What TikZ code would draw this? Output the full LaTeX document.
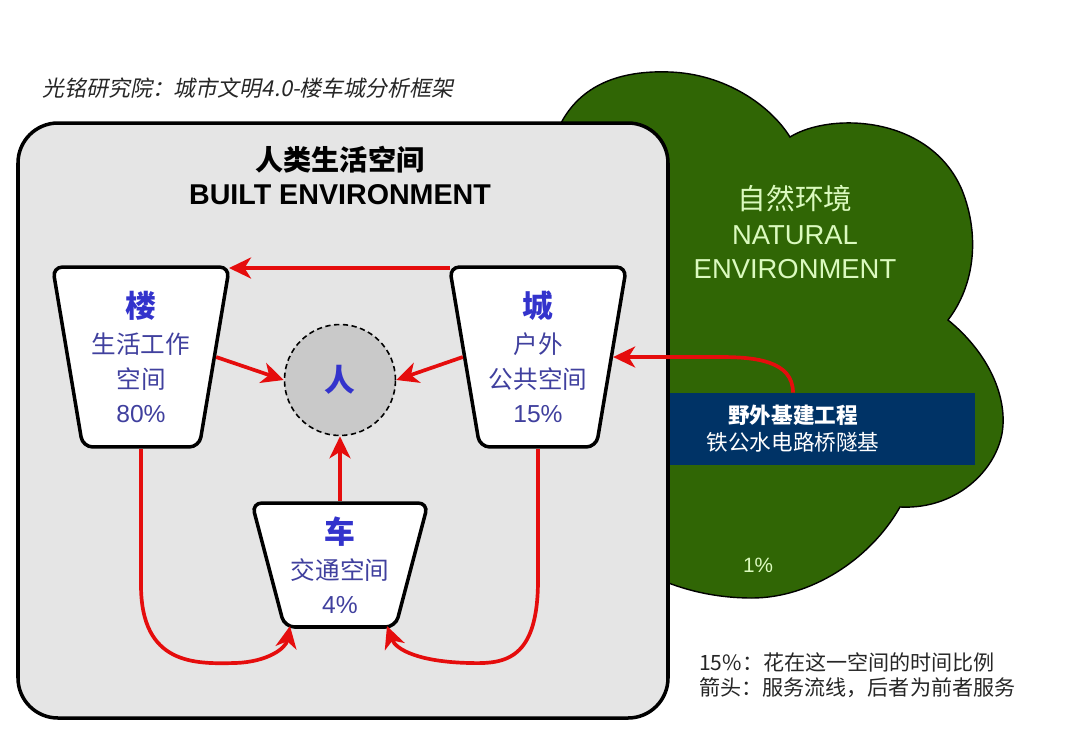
\documentclass[tikz,border=0pt]{standalone}
\usepackage{fontspec}
\setmainfont{Liberation Sans}
\newfontfamily\cjk{Noto Sans CJK SC}
\newfontfamily\cjkslant[FakeSlant=0.2]{Noto Sans CJK SC}
\usetikzlibrary{arrows.meta}
\usetikzlibrary{calc}
\usetikzlibrary{shapes.geometric}
\definecolor{bgray}{rgb}{0.9, 0.9, 0.9}
\definecolor{cgray}{rgb}{0.79, 0.79, 0.79}
\definecolor{ngreen}{rgb}{0.19, 0.4, 0.02}
\definecolor{ltgreen}{rgb}{0.86, 0.98, 0.75}
\definecolor{inavy}{rgb}{0, 0.2, 0.4}
\definecolor{fred}{rgb}{0.9, 0.05, 0.05}
\definecolor{hblue}{rgb}{0.2, 0.2, 0.8}
\definecolor{tblue}{rgb}{0.25, 0.25, 0.62}
\tikzset{flow/.style = {draw=fred, line width=2.1pt,
                        -{Stealth[length=0.44cm, width=0.42cm, inset=0.13cm]}}}
\tikzset{space/.style = {trapezium, shape border rotate=180, trapezium stretches=true,
                         draw, line width=2pt, fill=white, rounded corners=0.2cm,
                         align=center, text=tblue, inner sep=0,
                         font=\cjk\fontsize{14}{19.5}\selectfont}}
\newcommand{\hd}[1]{{\bfseries\fontsize{17.5}{19.5}\selectfont\textcolor{hblue}{#1}}}

\begin{document}
\begin{tikzpicture}[x=0.02cm, y=-0.02cm]
      \useasboundingbox (0, 0) rectangle (1080, 735);

      \draw [fill=ngreen, line width=0.8pt] (590, 300) -- (560, 125)
        .. controls (580, 85) and (620, 70) .. (670, 72)
        .. controls (725, 74) and (770, 105) .. (790, 137)
        .. controls (830, 112) and (930, 115) .. (962, 190)
        .. controls (980, 235) and (975, 285) .. (948, 320)
        .. controls (985, 350) and (1005, 390) .. (1003, 425)
        .. controls (1001, 465) and (960, 510) .. (900, 507)
        .. controls (870, 560) and (810, 598) .. (752, 598)
        .. controls (705, 598) and (668, 585) .. (640, 570) -- cycle;

      \node [fill=inavy, minimum width=6.2cm, minimum height=1.44cm, inner sep=0] (infra) at (820, 429) {};
      \draw [fill=bgray, line width=2pt, rounded corners=0.8cm] (18, 123) rectangle (668, 718);

      \node [anchor=west, text=black!85, font=\cjkslant\fontsize{12.5}{14}\selectfont] (title) at (36, 88)
        {光铭研究院：城市文明4.0-楼车城分析框架};
      \node [font=\cjk\bfseries\fontsize{16}{18}\selectfont] (bename) at (340, 160) {人类生活空间};
      \node [font=\bfseries\fontsize{16.3}{18}\selectfont] (been) at (340, 195) {BUILT ENVIRONMENT};

      \node [text=ltgreen, align=center, font=\fontsize{15.6}{19.8}\selectfont] (nature) at (795, 232)
        {{\cjk\fontsize{16.3}{19.8}\selectfont 自然环境}\\ NATURAL\\ ENVIRONMENT};
      \node [text=ltgreen, font=\fontsize{11.8}{14}\selectfont] (share) at (758, 565) {1\%};
      \node [text=white, align=center, font=\cjk\fontsize{12.3}{15.3}\selectfont] (infratxt) at (793, 429)
        {{\bfseries 野外基建工程}\\ 铁公水电路桥隧基};

      \node [space, trapezium angle=79, minimum width=3.56cm, minimum height=3.6cm] (lou) at (141, 357)
        {\hd{楼}\\[1pt] 生活工作\\ 空间\\ {\rmfamily 80\%}};
      \node [space, trapezium angle=79, minimum width=3.56cm, minimum height=3.6cm] (cheng) at (538, 357)
        {\hd{城}\\[1pt] 户外\\ 公共空间\\ {\rmfamily 15\%}};
      \node [space, trapezium angle=73.4, minimum width=3.54cm, minimum height=2.48cm] (che) at (340, 565)
        {\hd{车}\\[1pt] 交通空间\\ {\rmfamily 4\%}};
      \node [circle, draw, dash pattern=on 3pt off 2pt, line width=0.9pt, fill=cgray, minimum size=2.22cm,
             inner sep=0, font=\cjk] (ren) at (340, 380) {\hd{人}};

      \draw [flow] ($(cheng.center) + (-88, -89)$) -- ($(lou.center) + (88, -89)$);
      \draw [flow] (lou.0) -- (ren.180);
      \draw [flow] (cheng.180) -- (ren.0);
      \draw [flow] (che.90) -- (ren.270);
      \draw [flow] (lou.270) -- (141, 585) .. controls (141, 665) and (195, 664) .. (235, 663)
        .. controls (268, 662) and (286, 648) .. ($(che.center) + (-50, 61)$);
      \draw [flow] (cheng.270) -- (538, 580) .. controls (538, 660) and (505, 664) .. (470, 663)
        .. controls (420, 662) and (396, 650) .. ($(che.center) + (47, 61)$);
      \draw [flow] (infratxt |- infra.north) .. controls +(0, -32) and +(35, 0) .. (720, 357) -- (cheng.0);

      \node [anchor=west, text=black!85, font=\cjk\fontsize{12}{14}\selectfont] (note1) at (693, 662)
        {15\%：花在这一空间的时间比例};
      \node [anchor=west, text=black!85, font=\cjk\fontsize{12}{14}\selectfont] (note2) at (693, 688)
        {箭头：服务流线，后者为前者服务};
    \end{tikzpicture}
\end{document}
